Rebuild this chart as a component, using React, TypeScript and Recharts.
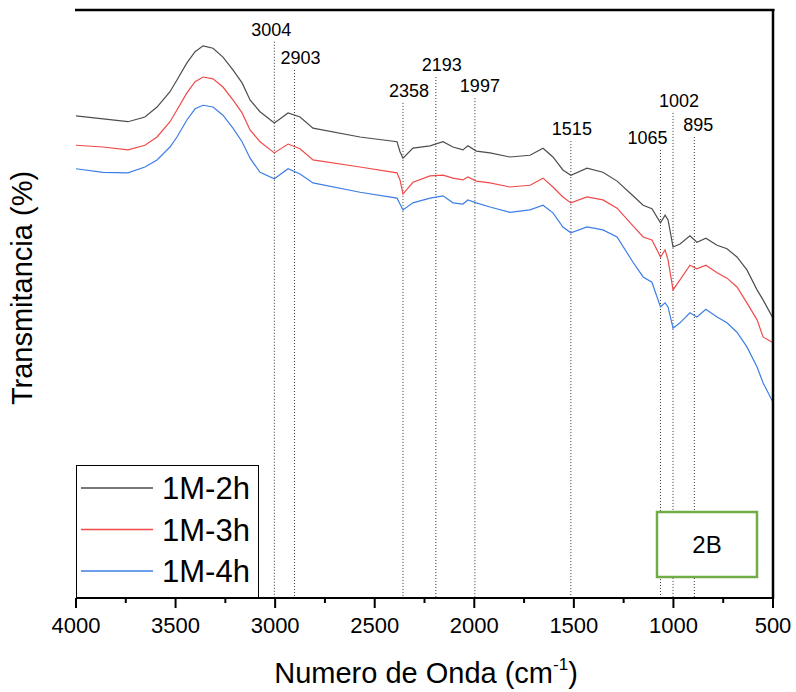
import React from "react";
import { LineChart, Line, XAxis, YAxis, ReferenceLine, ReferenceDot } from "recharts";

// wavenumber (cm-1) sample points
const wavenumbers = [
  4000, 3864, 3739, 3654, 3593, 3528, 3493, 3443, 3402, 3362,
  3312, 3262, 3212, 3166, 3126, 3076, 3004, 2935, 2875, 2810,
  2574, 2388, 2373, 2358, 2308, 2222, 2157, 2107, 2057, 2032,
  1990, 1921, 1821, 1720, 1655, 1605, 1555, 1515, 1434, 1354,
  1283, 1203, 1152, 1108, 1065, 1042, 1027, 1002, 967, 917,
  882, 837, 781, 731, 681, 631, 580, 550, 500,
];

// transmittance (%) per sample
const trans2h = [
  82.0, 81.5, 81.0, 81.8, 83.5, 86.1, 88.1, 91.0, 92.9, 93.9,
  93.5, 92.0, 89.8, 87.6, 84.7, 82.7, 80.8, 82.5, 81.8, 79.9,
  78.4, 77.6, 75.9, 74.8, 76.5, 76.9, 77.6, 76.7, 76.2, 76.9,
  76.0, 75.7, 75.0, 75.3, 76.5, 75.0, 72.8, 71.9, 73.1, 72.4,
  70.9, 68.4, 66.8, 66.2, 63.8, 65.1, 64.3, 59.7, 60.2, 61.6,
  60.5, 61.2, 60.0, 59.4, 58.0, 55.8, 52.4, 50.7, 47.6,
];
const trans3h = [
  77.0, 76.7, 76.2, 77.0, 78.4, 81.0, 83.0, 85.9, 87.8, 88.6,
  88.3, 86.9, 84.7, 82.5, 79.6, 77.6, 75.7, 77.2, 76.4, 74.5,
  73.3, 72.3, 71.1, 68.7, 70.7, 71.8, 71.9, 71.4, 71.1, 71.6,
  70.9, 70.6, 69.9, 70.2, 71.4, 69.9, 68.2, 67.2, 68.2, 67.7,
  66.3, 63.3, 61.4, 60.9, 58.0, 59.2, 57.5, 52.4, 54.1, 56.6,
  56.0, 56.6, 55.3, 54.4, 52.9, 50.2, 47.3, 44.4, 43.4,
];
const trans4h = [
  73.0, 72.4, 72.3, 73.3, 74.5, 76.7, 78.4, 81.3, 83.2, 83.8,
  83.5, 82.1, 79.9, 77.6, 74.8, 72.4, 71.3, 73.0, 72.1, 70.6,
  69.0, 68.0, 67.0, 66.0, 67.2, 68.0, 68.4, 67.2, 67.0, 67.7,
  67.2, 66.5, 65.6, 66.0, 66.8, 65.5, 63.1, 62.1, 63.1, 62.6,
  61.4, 57.1, 54.6, 53.7, 49.5, 50.2, 49.5, 45.9, 46.8, 48.5,
  47.8, 49.1, 47.8, 46.8, 45.2, 42.7, 39.3, 36.6, 33.3,
];

const seriesNames = ["1M-2h", "1M-3h", "1M-4h"];
const xTicks = [4000, 3750, 3500, 3250, 3000, 2750, 2500, 2250, 2000, 1750, 1500, 1250, 1000, 750, 500];

// marked bands and where their dotted guide starts (in % units)
const peakWaves = [3004, 2903, 2358, 2193, 1997, 1515, 1065, 1002, 895];
const peakTops = [94.6, 89.8, 84.2, 88.6, 85.0, 77.7, 76.2, 82.5, 78.4];
const peakLabelDx = [-3, 6, 6, 6, 5, 1, -13, 6, 4];

const colors = ["#4d4d4d", "#f04a4a", "#3d7ee6"];
const keys = ["s2h", "s3h", "s4h"];
const FONT = "'Liberation Sans', Arial, sans-serif";

const data = wavenumbers.map((w, i) => ({
  w,
  s2h: trans2h[i],
  s3h: trans3h[i],
  s4h: trans4h[i],
}));

const XTick = (props: any) => {
  const { x, y, payload } = props;
  const major = payload.value % 500 === 0;
  return (
    <g>
      <line x1={x} x2={x} y1={y} y2={y + (major ? 10 : 5)} stroke="#000" strokeWidth={2} />
      {major && (
        <text x={x} y={y + 35} textAnchor="middle" fontSize={22} fontFamily={FONT} fill="#000">
          {payload.value}
        </text>
      )}
    </g>
  );
};

export default function App() {
  return (
    <div style={{ position: "absolute", left: 0, top: 0, width: 796, height: 692, background: "#fff" }}>
      <LineChart
        width={796}
        height={692}
        data={data}
        margin={{ top: 10, right: 23, left: 76, bottom: 0 }}
      >
        <XAxis
          dataKey="w"
          type="number"
          domain={[500, 4000]}
          reversed
          ticks={xTicks}
          interval={0}
          height={94}
          tickSize={0}
          tickMargin={0}
          tickLine={false}
          tick={<XTick />}
          axisLine={{ stroke: "#000", strokeWidth: 2 }}
        />
        <YAxis
          type="number"
          domain={[0, 100]}
          width={0}
          tick={false}
          tickLine={false}
          axisLine={{ stroke: "#000", strokeWidth: 2.5 }}
        />

        {peakWaves.map((p, i) => (
          <ReferenceLine
            key={`pl-${p}`}
            segment={[
              { x: p, y: peakTops[i] },
              { x: p, y: 0 },
            ]}
            stroke="#333"
            strokeWidth={1}
            strokeDasharray="1 2"
          />
        ))}
        {peakWaves.map((p, i) => (
          <ReferenceDot
            key={`pd-${p}`}
            x={p}
            y={peakTops[i]}
            r={0}
            shape={(s: any) => (
              <text
                x={s.cx + peakLabelDx[i]}
                y={s.cy - 6}
                textAnchor="middle"
                fontSize={18}
                fontFamily={FONT}
                fill="#000"
              >
                {p}
              </text>
            )}
          />
        ))}

        {keys.map((k, i) => (
          <Line
            key={k}
            dataKey={k}
            name={seriesNames[i]}
            type="linear"
            stroke={colors[i]}
            strokeWidth={1.2}
            dot={false}
            isAnimationActive={false}
          />
        ))}
      </LineChart>

      <svg
        width={796}
        height={692}
        style={{ position: "absolute", left: 0, top: 0, pointerEvents: "none" }}
      >
        {/* frame: top and right edges */}
        <line x1={75} x2={774.5} y1={10} y2={10} stroke="#000" strokeWidth={2.5} />
        <line x1={773} x2={773} y1={9} y2={599} stroke="#000" strokeWidth={2.5} />

        <text
          x={0}
          y={0}
          transform="translate(22,288) rotate(-90)"
          textAnchor="middle"
          dominantBaseline="central"
          fontSize={29}
          fontFamily={FONT}
          fill="#000"
        >
          Transmitancia (%)
        </text>
        <text x={426} y={683} textAnchor="middle" fontSize={29} fontFamily={FONT} fill="#000">
          Numero de Onda (cm
          <tspan fontSize={17} dy={-13}>-1</tspan>
          <tspan dy={13}>)</tspan>
        </text>

        <rect x={76.5} y={465.5} width={182} height={133} fill="none" stroke="#000" strokeWidth={1} />
        {seriesNames.map((n, i) => (
          <g key={n}>
            <line x1={81} x2={153} y1={488 + i * 41.5} y2={488 + i * 41.5} stroke={colors[i]} strokeWidth={1.5} />
            <text x={162} y={499 + i * 41.5} fontSize={31} fontFamily={FONT} fill="#000">
              {n}
            </text>
          </g>
        ))}

        <rect x={657} y={512} width={100} height={65} fill="#fff" stroke="#70ad47" strokeWidth={2.5} />
        <text x={707} y={553} textAnchor="middle" fontSize={24} fontFamily={FONT} fill="#000">
          2B
        </text>
      </svg>
    </div>
  );
}
